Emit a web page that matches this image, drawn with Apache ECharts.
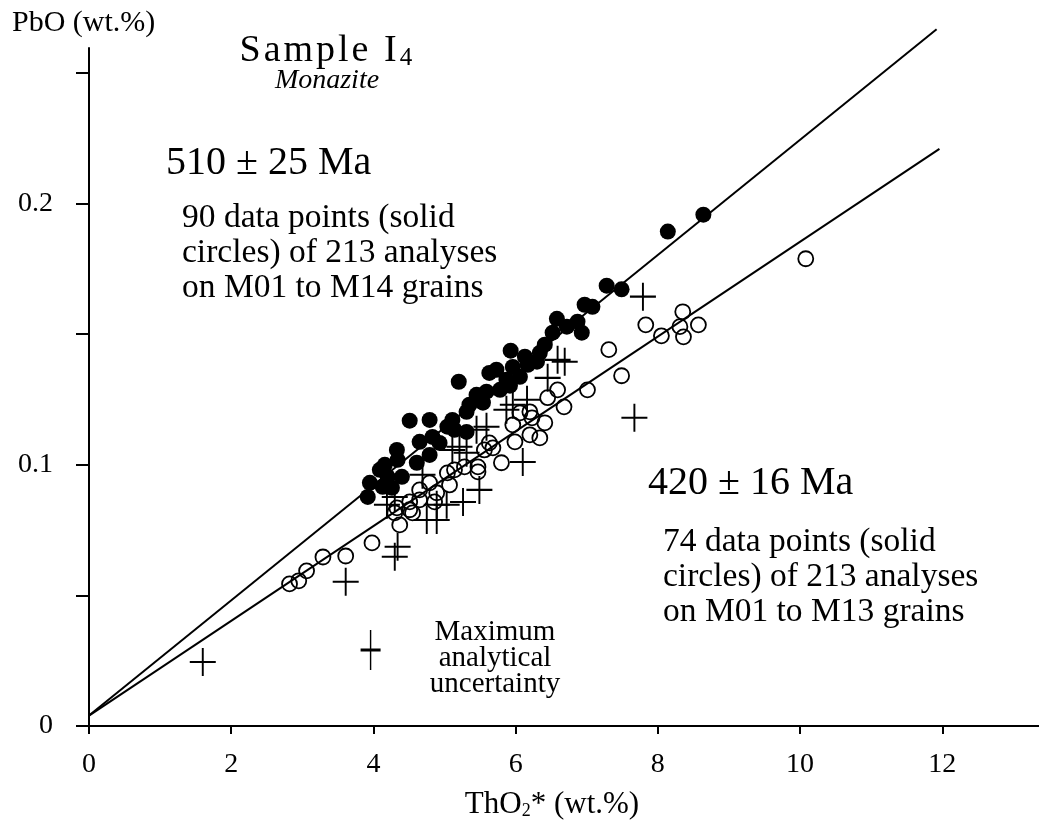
<!DOCTYPE html>
<html>
<head>
<meta charset="utf-8">
<script src="https://cdn.jsdelivr.net/npm/echarts@6/dist/echarts.min.js"></script>
<style>
html,body{margin:0;padding:0;background:#fff;}
#c{width:1039px;height:821px;}
</style>
</head>
<body>
<div id="c"></div>
<script>
// ---- data (ThO2* wt.%, PbO wt.%) ----
var xTicks = [0, 2, 4, 6, 8, 10, 12];
var yLabels = [0, 0.1, 0.2];
var yTicks = [0, 0.05, 0.1, 0.15, 0.2, 0.25];

var solidCircles = [
  [8.64,0.1958],[8.14,0.1893],[7.28,0.1686],[7.49,0.1672],[6.97,0.1613],[7.08,0.1605],
  [6.58,0.1559],[6.72,0.1529],[6.87,0.1548],[6.93,0.1506],[6.52,0.1506],[5.93,0.1437],
  [6.13,0.1414],[6.34,0.1429],[6.30,0.1395],[5.96,0.1375],[6.06,0.1337],[5.87,0.1326],
  [5.20,0.1318],[5.63,0.1352],[5.73,0.1364],[5.45,0.1268],[5.59,0.1280],[5.78,0.1287],
  [5.92,0.1303],[5.31,0.1203],[5.54,0.1238],[4.51,0.1169],[4.79,0.1172],[5.11,0.1172],
  [5.04,0.1146],[5.31,0.1126],[4.65,0.1088],[4.83,0.1107],[4.93,0.1084],[4.33,0.1057],
  [4.34,0.1019],[4.79,0.1038],[4.61,0.1008],[4.09,0.0981],[4.20,0.0954],[4.40,0.0954],
  [3.95,0.0931],[4.13,0.0916],[3.92,0.0877],[4.26,0.0912],[4.16,0.1000],[5.35,0.1230],
  [5.14,0.1134],[6.17,0.1383],[6.41,0.1460]
];
var openCircles = [
  [10.08,0.1789],[8.35,0.1586],[7.83,0.1536],[8.31,0.1529],[8.57,0.1536],[8.36,0.1490],
  [8.05,0.1494],[7.31,0.1441],[7.49,0.1341],[7.01,0.1287],[6.59,0.1287],[6.45,0.1257],
  [6.68,0.1222],[6.41,0.1161],[6.20,0.1203],[6.06,0.1199],[5.96,0.1153],[6.23,0.1180],
  [6.20,0.1115],[6.34,0.1103],[5.99,0.1088],[5.63,0.1084],[5.68,0.1065],[5.56,0.1057],
  [5.80,0.1008],[5.47,0.0992],[5.28,0.0992],[5.14,0.0981],[5.04,0.0969],[5.47,0.0973],
  [5.07,0.0923],[4.79,0.0931],[4.65,0.0904],[4.89,0.0893],[4.65,0.0866],[4.86,0.0858],
  [4.51,0.0858],[4.33,0.0835],[4.51,0.0828],[4.55,0.0816],[4.30,0.0816],[4.37,0.0770],
  [3.98,0.0701],[2.82,0.0544],[2.95,0.0556],[3.06,0.0594],[3.29,0.0647],[3.61,0.0651]
];
var crosses = [
  [7.79,0.1644],[6.59,0.1402],[6.69,0.1395],[6.45,0.1333],[6.16,0.1249],[5.96,0.1230],
  [5.87,0.1211],[7.67,0.1180],[5.59,0.1146],[5.45,0.1134],[5.11,0.1057],[5.21,0.1069],
  [5.31,0.1046],[6.10,0.1011],[5.49,0.0904],[5.26,0.0858],[5.03,0.0847],[4.69,0.0962],
  [4.89,0.0847],[4.30,0.0877],[4.19,0.0847],[4.89,0.0789],[4.75,0.0789],[4.34,0.0686],
  [4.30,0.0648],[1.60,0.0245],[3.61,0.0552]
];
var uncertaintyCross = [[3.96,0.0291]];
var line510 = [[0,0.004],[11.92,0.2668]];
var line420 = [[0,0.004],[11.96,0.2210]];

var FONT = '"Liberation Serif", "Times New Roman", serif';
var crossPath = 'path://M0,50L100,50M50,0L50,100';

// letter-spaced title
var titleChars = ['S','a','m','p','l','e','\u00a0','I'];
var titleText = titleChars.map(function (c) { return '{a|' + c + '}'; }).join('') + '{b|4}';

var chart = echarts.init(document.getElementById('c'), null, {renderer:'canvas'});
chart.setOption({
  animation: false,
  backgroundColor: '#fff',
  grid: {left: 89, top: 48, width: 950, height: 678, containLabel: false},
  xAxis: {
    type: 'value', min: 0, max: 13.36,
    splitLine: {show: false},
    axisLine: {show: true, onZero: false, lineStyle: {color: '#000', width: 2}},
    axisTick: {show: true, length: 8, lineStyle: {color: '#000', width: 2}, customValues: xTicks},
    axisLabel: {customValues: xTicks, margin: 25, color: '#000', fontFamily: FONT, fontSize: 28}
  },
  yAxis: {
    type: 'value', min: 0, max: 0.2596,
    splitLine: {show: false},
    axisLine: {show: true, onZero: false, lineStyle: {color: '#000', width: 2}},
    axisTick: {show: true, length: 13, lineStyle: {color: '#000', width: 2}, customValues: yTicks},
    axisLabel: {customValues: yLabels, margin: 36, color: '#000', fontFamily: FONT, fontSize: 28,
      formatter: function (v) { return v === 0 ? '0' : String(Math.round(v * 10) / 10); }}
  },
  series: [
    {type: 'line', data: line510, symbol: 'none', clip: false, lineStyle: {color: '#000', width: 2}, z: 1},
    {type: 'line', data: line420, symbol: 'none', clip: false, lineStyle: {color: '#000', width: 2}, z: 1},
    {type: 'scatter', data: openCircles, symbol: 'circle', symbolSize: 15,
      itemStyle: {color: 'rgba(0,0,0,0)', borderColor: '#000', borderWidth: 1.8, opacity: 1}, z: 2},
    {type: 'scatter', data: crosses, symbol: crossPath, symbolSize: [26, 28],
      itemStyle: {color: '#000', borderColor: '#000', borderWidth: 2, opacity: 1}, z: 3},
    {type: 'scatter', data: uncertaintyCross, symbol: crossPath, symbolSize: [20, 40],
      itemStyle: {color: '#000', borderColor: '#000', borderWidth: 2, opacity: 1}, z: 3},
    {type: 'scatter', data: solidCircles, symbol: 'circle', symbolSize: 16,
      itemStyle: {color: '#000', opacity: 1}, z: 4}
  ],
  graphic: [
    {type: 'text', x: 12, y: 8, style: {text: 'PbO (wt.%)', font: '30px ' + FONT, fill: '#000', textVerticalAlign: 'top'}},
    {type: 'text', x: 238, y: 31, style: {
      text: titleText, textAlign: 'left', textVerticalAlign: 'top', fill: '#000',
      rich: {a: {fontSize: 38, fontFamily: FONT, lineHeight: 40, padding: [0, 1.5, 0, 1.5]},
             b: {fontSize: 25, fontFamily: FONT, lineHeight: 32, verticalAlign: 'bottom', padding: [0, 1.5, 0, 1.5]}}}},
    {type: 'text', x: 327, y: 67, style: {text: 'Monazite', font: 'italic 28px ' + FONT, fill: '#000', textAlign: 'center', textVerticalAlign: 'top'}},
    {type: 'text', x: 166, y: 143, style: {text: '510 ± 25 Ma', font: '40px ' + FONT, fill: '#000', textVerticalAlign: 'top'}},
    {type: 'text', x: 182, y: 201, style: {text: '90 data points (solid\ncircles) of 213 analyses\non M01 to M14 grains', font: '33.5px ' + FONT, lineHeight: 35, fill: '#000', textVerticalAlign: 'top'}},
    {type: 'text', x: 648, y: 463, style: {text: '420 ± 16 Ma', font: '40px ' + FONT, fill: '#000', textVerticalAlign: 'top'}},
    {type: 'text', x: 663, y: 525, style: {text: '74 data points (solid\ncircles) of 213 analyses\non M01 to M13 grains', font: '33.5px ' + FONT, lineHeight: 35, fill: '#000', textVerticalAlign: 'top'}},
    {type: 'text', x: 495, y: 619, style: {text: 'Maximum\nanalytical\nuncertainty', font: '29px ' + FONT, lineHeight: 26, fill: '#000', textAlign: 'center', textVerticalAlign: 'top'}},
    {type: 'text', x: 552, y: 789, style: {
      text: '{a|ThO}{s|2}{a|* (wt.%)}', textAlign: 'center', textVerticalAlign: 'top', fill: '#000',
      rich: {a: {fontSize: 31, fontFamily: FONT, lineHeight: 31}, s: {fontSize: 18, fontFamily: FONT, lineHeight: 20, verticalAlign: 'bottom'}}}}
  ]
});
</script>
</body>
</html>
